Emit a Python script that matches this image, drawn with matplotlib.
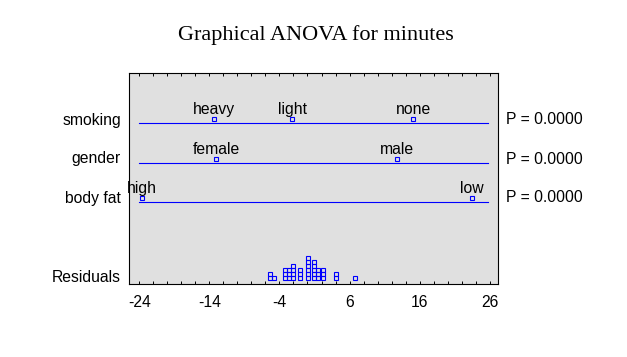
import matplotlib
matplotlib.use("Agg")
import matplotlib.pyplot as plt
from collections import Counter

plt.rcParams["axes.unicode_minus"] = False

# factor effects, scaled to residual units
factors = ["smoking", "gender", "body fat"]
levels = [["heavy", "light", "none"], ["female", "male"], ["high", "low"]]
effects = [[-13.3, -2.2, 15.1], [-13.0, 12.8], [-23.7, 23.5]]
p_values = ["0.0000", "0.0000", "0.0000"]

# residuals (one entry per square in the dot plot)
residuals = [-5.36, -5.36, -4.79,
             -3.21, -3.21, -3.21, -2.64, -2.64, -2.64,
             -2.07, -2.07, -2.07, -2.07, -1.07, -1.07, -1.07,
             0.07, 0.07, 0.07, 0.07, 0.07, 0.07,
             0.93, 0.93, 0.93, 0.93, 0.93,
             1.5, 1.5, 1.5, 2.21, 2.21, 2.21,
             4.07, 4.07, 6.79]

xticks = [-24, -14, -4, 6, 16, 26]
line_span = (-24, 25.8)

# row layout (y in pixels above the bottom spine)
row_line = [161, 120.7, 81.7]
row_text = [164, 125, 86]
res_y0 = 5.7
res_step = 4
res_text = 6

blue = "#0000ff"
sans = "Liberation Sans"
fs = 11.3

fig = plt.figure(figsize=(6.27, 3.57), dpi=100)
ax = fig.add_axes([129.3 / 627, (357 - 284) / 357, 369 / 627, 211.3 / 357])
ax.set_facecolor("#e0e0e0")
ax.set_xlim(-25.45, 27.25)
ax.set_ylim(0, 211.3)

for i, name in enumerate(factors):
    ax.plot(line_span, [row_line[i], row_line[i]], color=blue, lw=0.8)
    for lev, eff in zip(levels[i], effects[i]):
        ax.plot(eff, row_line[i] + 3.9, marker="s", ms=3.0, mew=0.8,
                mfc="none", mec=blue, ls="none")
        ax.annotate(lev, (eff, row_line[i] + 3.9), xytext=(0, 5),
                    textcoords="offset pixels", ha="center", va="baseline",
                    fontsize=fs, family=sans)
    ax.text(-0.0225, row_text[i], name, transform=ax.get_yaxis_transform(),
            ha="right", va="center", fontsize=fs, family=sans)
    ax.text(1.0209, row_text[i], "P = " + p_values[i],
            transform=ax.get_yaxis_transform(),
            ha="left", va="center", fontsize=fs, family=sans)

# stacked residual squares
counts = Counter()
for r in residuals:
    ax.plot(r, res_y0 + counts[r] * res_step, marker="s", ms=2.9, mew=0.8,
            mfc="none", mec=blue, ls="none")
    counts[r] += 1
ax.text(-0.0225, res_text, "Residuals", transform=ax.get_yaxis_transform(),
        ha="right", va="center", fontsize=fs, family=sans)

ax.set_xticks(xticks)
ax.set_xticks(range(-24, 27, 2), minor=True)
ax.set_yticks([])
ax.tick_params(axis="x", which="both", direction="in", top=True,
               length=2.5, width=0.7, pad=8, labelsize=fs)
for lab in ax.get_xticklabels():
    lab.set_family(sans)
for s in ax.spines.values():
    s.set_linewidth(0.8)

fig.text(316 / 627, 1 - 40 / 357, "Graphical ANOVA for minutes",
         ha="center", va="baseline", fontsize=16, family="Liberation Serif")

fig.savefig("out.png", dpi=100)
